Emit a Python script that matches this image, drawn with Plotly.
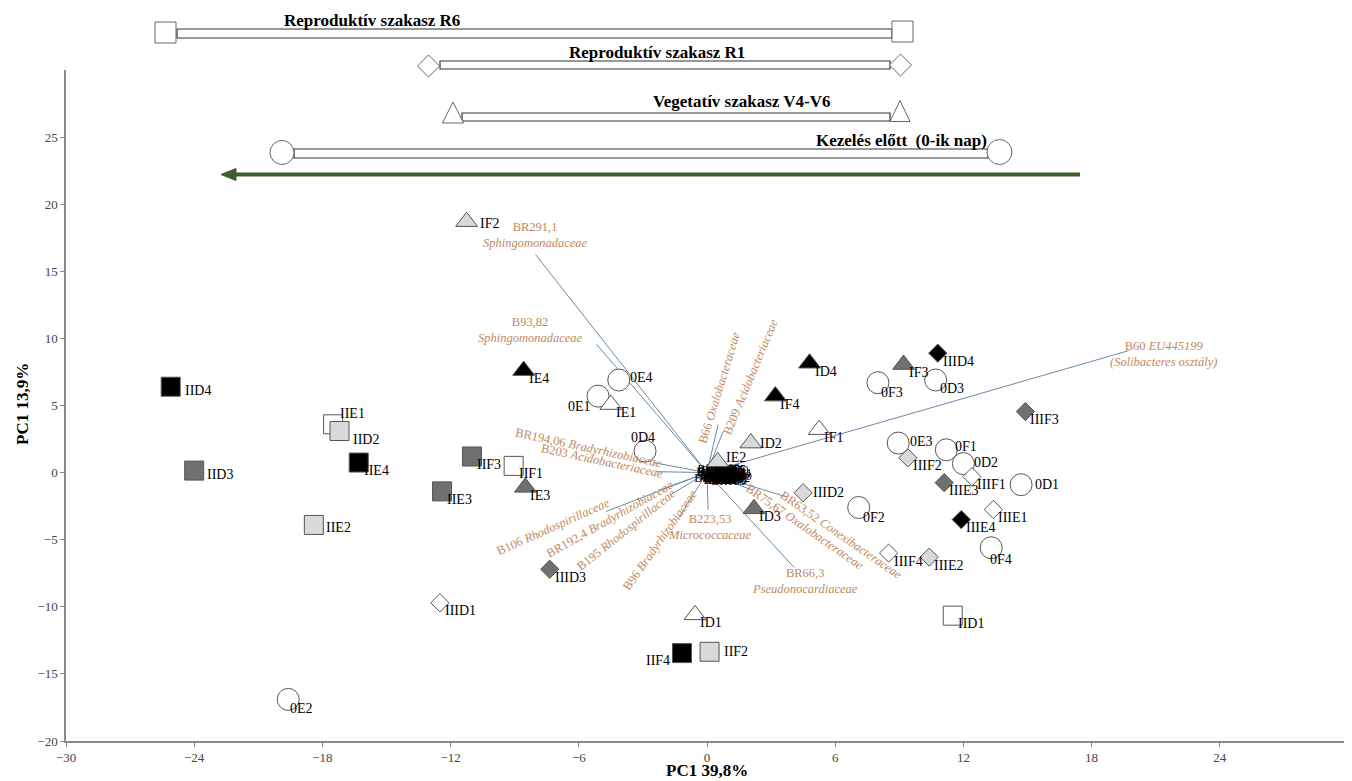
import plotly.graph_objects as go

# ---------------- data ----------------
# sample scores (PC1 39,8% ; second axis labelled "PC1 13,9%")
sample_labels = ["IID4", "IID3", "IIE1", "IID2", "IIE4", "IIE2", "IIF3", "IIF1", "IIE3", "IIF4", "IIF2", "IID1",
                 "IF2", "IE4", "IE1", "IE3", "IE2", "ID2", "IF4", "ID4", "IF1", "IF3", "ID3", "ID1",
                 "0E4", "0E1", "0D4", "0E3", "0F1", "0D2", "0D1", "0F3", "0D3", "0F2", "0F4", "0E2",
                 "IIID4", "IIIF3", "IIIF2", "IIIF1", "IIIE3", "IIID2", "IIIE1", "IIIE4", "IIIF4", "IIIE2", "IIID3", "IIID1"]
sample_x = [-25.1, -24.0, -17.5, -17.2, -16.3, -18.4, -11.0, -9.05, -12.4, -1.17, 0.12, 11.5,
            -11.25, -8.58, -4.5, -8.5, 0.5, 2.05, 3.2, 4.8, 5.25, 9.2, 2.2, -0.56,
            -4.13, -5.1, -2.9, 8.95, 11.2, 12.0, 14.7, 8.0, 10.7, 7.1, 13.3, -19.6,
            10.8, 14.9, 9.4, 12.4, 11.1, 4.5, 13.4, 11.9, 8.5, 10.4, -7.36, -12.5]
sample_y = [6.4, 0.15, 3.6, 3.1, 0.75, -3.9, 1.2, 0.5, -1.4, -13.45, -13.35, -10.66,
            18.7, 7.6, 5.07, -1.1, 0.8, 2.2, 5.7, 8.15, 3.2, 8.05, -2.7, -10.6,
            6.9, 5.7, 1.6, 2.2, 1.7, 0.67, -0.9, 6.7, 6.9, -2.6, -5.6, -16.9,
            8.9, 4.55, 1.1, -0.3, -0.75, -1.5, -2.75, -3.5, -6.0, -6.3, -7.2, -9.7]
sample_stage = (["R6"] * 12) + (["V4-V6"] * 12) + (["0"] * 12) + (["R1"] * 12)
sample_fill = ["4", "3", "1", "2", "4", "2", "3", "1", "3", "4", "2", "1",
               "2", "4", "1", "3", "2", "2", "4", "4", "1", "3", "3", "1",
               "1", "1", "1", "1", "1", "1", "1", "1", "1", "1", "1", "1",
               "4", "3", "2", "1", "3", "2", "1", "4", "1", "2", "3", "1"]

# variable loadings (vectors) and their labels
vec_names = ["BR291,1<br><i>Sphingomonadaceae</i>", "B93,82<br><i>Sphingomonadaceae</i>",
             "B60 <i>EU445199</i><br><i>(Solibacteres osztály)</i>", "B66 <i>Oxalobacteraceae</i>",
             "B209 <i>Acidobacteriaceae</i>", "BR194,06 <i>Bradyrhizobiaceae</i>",
             "B203 <i>Acidobacteriaceae</i>", "B106 <i>Rhodospirillaceae</i>",
             "BR192,4 <i>Bradyrhizobiaceae</i>", "B195 <i>Rhodospirillaceae</i>",
             "B96 <i>Bradyrhizobiaceae</i>", "B223,53<br><i>Micrococcaceae</i>",
             "BR66,3<br><i>Pseudonocardiaceae</i>", "BR75,67 <i>Oxalobacteraceae</i>",
             "BR63,52 <i>Conexibacteraceae</i>"]
vec_x = [-8.02, -5.16, 19.74, 0.52, 0.75, -2.53, -2.39, -4.73, -2.16, -1.69, -1.31, 0.05, 4.08, 2.06, 3.7]
vec_y = [16.24, 9.54, 9.09, 3.58, 3.05, 0.75, 0.07, -2.9, -1.27, -1.64, -3.35, -2.76, -7.08, -1.27, -1.8]

# short-loading variables crowded round the origin
small_names = ["B12", "B15", "B18", "B21", "B27", "B31", "B34", "B38", "B42", "B45",
               "B51", "B55", "B58", "B62", "B70", "B74", "B78", "B81", "B85", "B88",
               "BR101", "BR110", "BR120", "BR133", "BR140", "BR152", "BR160", "BR171", "BR185", "BR199",
               "B102", "B117", "B125", "B138", "B144", "B156", "B163", "B178", "B182", "B190",
               "B201", "B214", "B228", "B233", "B247", "B252", "B266", "B271", "B285", "B298"]
small_x = [0.2, 0.5, 0.9, 1.3, 0.3, 0.7, 1.1, 1.4, 0.15, 0.6,
           1.0, 1.35, 0.4, 0.8, 1.2, 0.25, 0.55, 0.95, 1.25, 0.45,
           0.7, 1.05, 0.35, 0.85, 1.15, 0.6, 1.3, 0.2, 1.0, 0.75,
           0.1, 0.45, 0.85, 1.2, 1.45, 0.3, 0.65, 1.05, 1.4, 0.9,
           0.25, 0.55, 0.8, 1.1, 1.35, 0.15, 0.5, 0.95, 1.25, 0.7]
small_y = [0.1, -0.3, 0.2, -0.1, -0.6, -0.5, -0.4, -0.6, -0.2, 0.15,
           0.0, 0.2, 0.05, -0.15, -0.55, -0.4, -0.65, -0.6, 0.1, -0.1,
           0.0, -0.25, 0.2, -0.35, 0.15, -0.45, -0.35, -0.5, -0.7, 0.25,
           -0.05, -0.45, -0.55, -0.25, -0.1, -0.25, -0.2, 0.1, -0.45, -0.05,
           -0.3, 0.1, -0.6, 0.0, -0.5, 0.05, -0.55, -0.15, -0.2, -0.35]

x_ticks = [-30, -24, -18, -12, -6, 0, 6, 12, 18, 24]
y_ticks = [-20, -15, -10, -5, 0, 5, 10, 15, 20, 25]

# ---------------- styles ----------------
FONT = "Liberation Serif"
fill_colors = {"1": "#ffffff", "2": "#d9d9d9", "3": "#707070", "4": "#000000"}
stage_symbol = {"R6": "square", "R1": "diamond", "V4-V6": "triangle-up", "0": "circle"}
stage_size = {"R6": 19, "R1": 14, "V4-V6": 19, "0": 22}
LOAD_COLOR = "#6a8aa6"
LABEL_COLOR = "#c08a5e"

# label offsets (screen px: dx right, dy down) and anchor
label_offset = {
    "IID4": (12, 4), "IID3": (11, 4), "IID2": (12, 8), "IIE2": (10, 3), "IIE1": (5, -11),
    "IF2": (11, 2), "ID2": (7, 0), "IE2": (6, -4), "IIID2": (8, 0), "IIF2": (12, 0),
    "IIF4": (-10, 7, "right"), "0E1": (-5, 10, "right"), "0D4": (-2, -14, "center"),
    "0E4": (9, -3), "0E3": (10, -2), "0F1": (7, -3), "0D2": (9, -1), "0D1": (12, 0),
    "0F3": (1, 10), "0D3": (2, 8), "0F2": (2, 10), "0F4": (-3, 12), "0E2": (0, 9),
}
DEFAULT_OFF = (3, 8)

fig = go.Figure()

# loading vectors
lx, ly = [], []
for vx, vy in zip(vec_x, vec_y):
    lx += [0, vx, None]
    ly += [0, vy, None]
fig.add_trace(go.Scatter(x=lx, y=ly, mode="lines", line=dict(color=LOAD_COLOR, width=1),
                         hoverinfo="skip", showlegend=False))

# crowded origin labels
fig.add_trace(go.Scatter(x=small_x, y=small_y, mode="text", text=small_names,
                         textfont=dict(family=FONT, size=12, color="#000000"),
                         hoverinfo="skip", showlegend=False))

# sample markers by stage
for stage in ["0", "V4-V6", "R1", "R6"]:
    idx = [i for i, s in enumerate(sample_stage) if s == stage]
    fig.add_trace(go.Scatter(
        x=[sample_x[i] for i in idx], y=[sample_y[i] for i in idx], mode="markers",
        marker=dict(symbol=stage_symbol[stage], size=stage_size[stage],
                    color=[fill_colors[sample_fill[i]] for i in idx],
                    line=dict(color="#555555", width=1)),
        text=[sample_labels[i] for i in idx], hoverinfo="text", showlegend=False))

annotations = []
for lab, x, y in zip(sample_labels, sample_x, sample_y):
    off = label_offset.get(lab, DEFAULT_OFF)
    anchor = off[2] if len(off) > 2 else "left"
    annotations.append(dict(x=x, y=y, xref="x", yref="y", text=lab, showarrow=False,
                            xanchor=anchor, yanchor="middle", xshift=off[0], yshift=-off[1],
                            font=dict(family=FONT, size=14, color="#000000")))

# loading labels: (x, y, angle)
vec_label_pos = [(-8.02, 17.73, 0), (-8.25, 10.66, 0), (21.38, 8.87, 0), (0.56, 6.33, -73),
                 (2.02, 7.15, -67.5), (-5.53, 1.86, 12), (-4.92, 0.89, 12), (-7.22, -4.02, -24),
                 (-4.55, -3.43, -29.6), (-3.8, -4.25, -38.7), (-2.2, -5.0, -55), (0.14, -4.02, 0),
                 (4.6, -8.05, 0), (4.59, -4.02, 34.8), (6.28, -4.62, 34.6)]
for name, (ax_, ay_, ang) in zip(vec_names, vec_label_pos):
    annotations.append(dict(x=ax_, y=ay_, xref="x", yref="y", text=name, showarrow=False,
                            textangle=ang, xanchor="center", yanchor="middle",
                            font=dict(family=FONT, size=12.5, color=LABEL_COLOR)))

# ---------------- stage legend (drawn above the plot, in page pixels) ----------------
# the page body has an 8 px margin; the figure is sized so the plot area lands on page pixels
BODY = 8
L, T, PW, PH = 66, 70, 1282, 671
FIG_W, FIG_H = 1352 - BODY, 781 - BODY


def pxx(x):
    return (x - L) / PW


def pyy(y):
    return (T + PH - y) / PH


shapes = []
mk_line = dict(color="#666666", width=1)


def bar(x0, x1, y0, y1):
    shapes.append(dict(type="rect", xref="paper", yref="paper", x0=pxx(x0), x1=pxx(x1),
                       y0=pyy(y1), y1=pyy(y0), fillcolor="#ffffff",
                       line=dict(color="#333333", width=1.2)))


def square(cx, cy, s):
    shapes.append(dict(type="rect", xref="paper", yref="paper", x0=pxx(cx - s / 2), x1=pxx(cx + s / 2),
                       y0=pyy(cy + s / 2), y1=pyy(cy - s / 2), fillcolor="#ffffff", line=mk_line))


def circle(cx, cy, s):
    shapes.append(dict(type="circle", xref="paper", yref="paper", x0=pxx(cx - s / 2), x1=pxx(cx + s / 2),
                       y0=pyy(cy + s / 2), y1=pyy(cy - s / 2), fillcolor="#ffffff", line=mk_line))


def poly(pts, fill="#ffffff", line=mk_line):
    p = "M " + " L ".join(f"{pxx(a):.5f},{pyy(b):.5f}" for a, b in pts) + " Z"
    shapes.append(dict(type="path", xref="paper", yref="paper", path=p, fillcolor=fill, line=line))


def diamond(cx, cy, s):
    poly([(cx - s / 2, cy), (cx, cy - s / 2), (cx + s / 2, cy), (cx, cy + s / 2)])


def triangle(cx, cy, w, h):
    poly([(cx - w / 2, cy + h / 2), (cx + w / 2, cy + h / 2), (cx, cy - h / 2)])


# R6
bar(177, 892, 29, 38)
square(165.5, 32.5, 21)
square(902.5, 31.5, 21)
# R1
bar(440, 890, 61, 69)
diamond(428.5, 66, 22)
diamond(900.5, 65, 22)
# V4-V6
bar(462, 890, 113, 121)
triangle(453, 112.5, 21, 21)
triangle(900, 111, 20, 21)
# 0-ik nap
bar(294, 988, 149, 158)
circle(282, 152.5, 24)
circle(999.5, 152, 25)
# green arrow
shapes.append(dict(type="line", xref="paper", yref="paper", x0=pxx(232), x1=pxx(1080),
                   y0=pyy(174.5), y1=pyy(174.5), line=dict(color="#3e5f2c", width=4)))
poly([(221, 174.5), (236, 168.5), (236, 180.5)], fill="#3e5f2c", line=dict(color="#3e5f2c", width=1))

legend_text = [("Reproduktív szakasz R6", 372, 20), ("Reproduktív szakasz R1", 657, 53),
               ("Vegetatív szakasz V4-V6", 742, 102), ("Kezelés előtt&nbsp; (0-ik nap)", 901, 141)]
for t, cx, cy in legend_text:
    annotations.append(dict(x=pxx(cx), y=pyy(cy), xref="paper", yref="paper", text=f"<b>{t}</b>",
                            showarrow=False, xanchor="center", yanchor="middle",
                            font=dict(family=FONT, size=17, color="#000000")))

# axis titles
annotations.append(dict(x=0.5, y=pyy(770), xref="paper", yref="paper", text="<b>PC1 39,8%</b>",
                        showarrow=False, xanchor="center", yanchor="middle",
                        font=dict(family=FONT, size=17, color="#000000")))
annotations.append(dict(x=pxx(22), y=pyy(404), xref="paper", yref="paper", text="<b>PC1 13,9%</b>",
                        showarrow=False, xanchor="center", yanchor="middle", textangle=-90,
                        font=dict(family=FONT, size=17, color="#000000")))

axis_common = dict(showgrid=False, zeroline=False, showline=True, linecolor="#8a8a8a", linewidth=1.5,
                   ticks="outside", ticklen=4, tickcolor="#8a8a8a",
                   tickfont=dict(family=FONT, size=13, color="#444444"))
fig.update_layout(
    width=FIG_W, height=FIG_H,
    margin=dict(l=L - BODY, r=FIG_W - (L - BODY) - PW, t=T - BODY, b=FIG_H - (T - BODY) - PH,
                autoexpand=False),
    paper_bgcolor="#ffffff", plot_bgcolor="#ffffff",
    xaxis=dict(range=[-30, 30], tickvals=x_ticks, **axis_common),
    yaxis=dict(range=[-20, 30], tickvals=y_ticks, **axis_common),
    shapes=shapes, annotations=annotations, showlegend=False,
)

fig.write_html("out.html")
